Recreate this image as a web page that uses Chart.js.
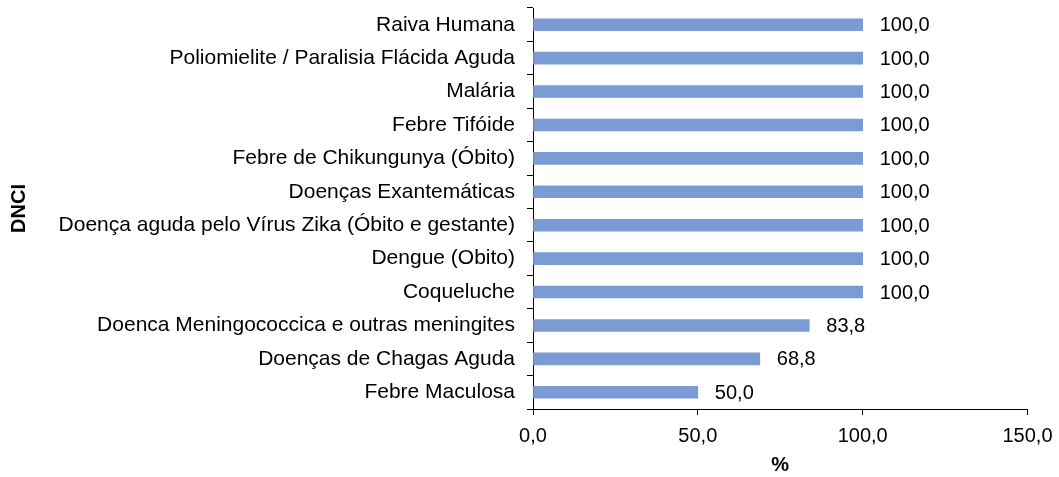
<!DOCTYPE html>
<html lang="pt-BR">
<head>
<meta charset="utf-8">
<title>DNCI</title>
<script src="https://cdn.jsdelivr.net/npm/chart.js@4.4.1/dist/chart.umd.min.js"></script>
<style>
  html, body { margin: 0; padding: 0; background: #fff; }
  #grafico { display: block; }
</style>
</head>
<body>
<canvas id="grafico" width="1059" height="477"></canvas>
<script>
// Doenças (de cima para baixo)
const doencas = [
    "Raiva Humana",
    "Poliomielite / Paralisia Flácida Aguda",
    "Malária",
    "Febre Tifóide",
    "Febre de Chikungunya (Óbito)",
    "Doenças Exantemáticas",
    "Doença aguda pelo Vírus Zika (Óbito e gestante)",
    "Dengue (Obito)",
    "Coqueluche",
    "Doenca Meningococcica e outras meningites",
    "Doenças de Chagas Aguda",
    "Febre Maculosa"
];

// Percentual de cada doença
const percentuais = [100, 100, 100, 100, 100, 100, 100, 100, 100, 83.8, 68.8, 50.0];

// Marcas do eixo X
const ticksX = [0, 50, 100, 150];

const fonte = "'Liberation Sans', Arial, sans-serif";

function formata(v) {
    return v.toFixed(1).replace(".", ",");
}

// Rótulos de valor à direita das barras
const rotulosValor = {
    id: "rotulosValor",
    afterDatasetsDraw(chart) {
        const ctx = chart.ctx;
        const meta = chart.getDatasetMeta(0);
        ctx.save();
        ctx.font = "20px " + fonte;
        ctx.fillStyle = "#000";
        ctx.textAlign = "left";
        ctx.textBaseline = "middle";
        meta.data.forEach((barra, i) => {
            ctx.fillText(formata(percentuais[i]), barra.x + 17, barra.y + 1);
        });
        ctx.restore();
    }
};

const ctx = document.getElementById("grafico").getContext("2d");
new Chart(ctx, {
    type: "bar",
    data: {
        labels: doencas,
        datasets: [{
            data: percentuais,
            backgroundColor: "#7b9bd5",
            borderWidth: 0,
            barThickness: 12
        }]
    },
    plugins: [rotulosValor],
    options: {
        indexAxis: "y",
        responsive: false,
        animation: false,
        layout: { padding: { left: 0, right: 31.5, top: 8, bottom: 0 } },
        plugins: {
            legend: { display: false },
            tooltip: { enabled: false }
        },
        scales: {
            x: {
                min: 0,
                max: 150,
                afterBuildTicks: s => { s.ticks = ticksX.map(v => ({ value: v })); },
                afterFit: s => {
                    s.height = 68;
                    s.paddingLeft = 0;
                    s.paddingRight = 0;
                },
                border: { color: "#000", width: 1 },
                grid: { drawOnChartArea: false, drawTicks: true, tickLength: 6, color: "#000" },
                ticks: {
                    color: "#000",
                    font: { family: fonte, size: 20 },
                    padding: 9,
                    maxRotation: 0,
                    callback: v => formata(v)
                },
                title: {
                    display: true,
                    text: "%",
                    color: "#000",
                    font: { family: fonte, size: 20, weight: "bold" },
                    padding: { top: -1, bottom: 0 }
                }
            },
            y: {
                afterFit: s => {
                    s.width = 533;
                    s.paddingTop = 0;
                    s.paddingBottom = 0;
                },
                border: { color: "#000", width: 1 },
                grid: { offset: true, drawOnChartArea: false, drawTicks: true, tickLength: 6, color: "#000" },
                ticks: {
                    color: "#000",
                    font: { family: fonte, size: 21 },
                    padding: 12,
                    autoSkip: false
                },
                title: {
                    display: true,
                    text: "DNCI",
                    color: "#000",
                    font: { family: fonte, size: 20, weight: "bold" },
                    padding: { top: 7, bottom: 0 }
                }
            }
        }
    }
});
</script>
</body>
</html>
